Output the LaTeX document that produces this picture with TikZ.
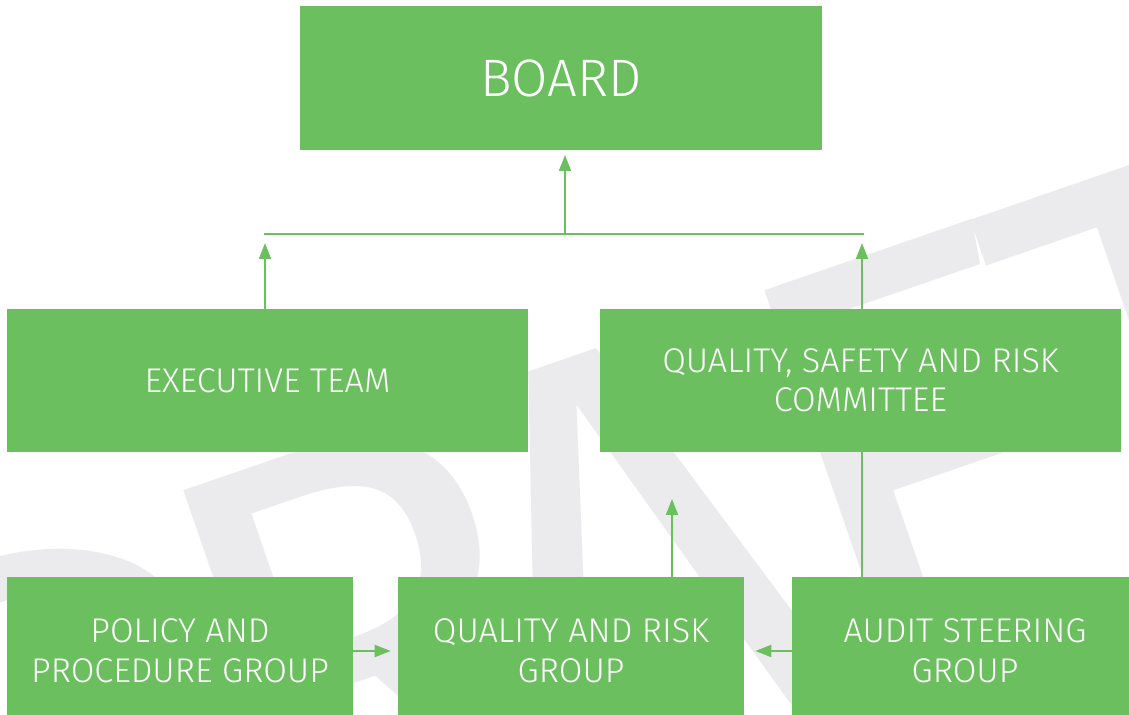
\documentclass[tikz,border=0pt]{standalone}
\usepackage{fontspec}
\setmainfont{Fira Sans Light}
\newfontfamily\markfont{Fira Sans}
\usetikzlibrary{arrows.meta}
\definecolor{boxgreen}{HTML}{6CBF5F}
\definecolor{draftgrey}{HTML}{EBEBED}

\begin{document}
\begin{tikzpicture}[x=0.02cm,y=-0.02cm]
	\tikzstyle{box}=[rectangle,fill=boxgreen,text=white,inner sep=0pt,align=center,font=\fontsize{19.5}{22.5}\selectfont]
	\tikzstyle{link}=[draw=boxgreen,line width=1.1pt]
	\tikzstyle{tip}=[-{Triangle[length=0.32cm,width=0.24cm]}]
	\tikzstyle{draftletter}=[text=draftgrey,rotate=19,anchor=base west,inner sep=0pt,font=\markfont\fontsize{341}{341}\selectfont]
	\useasboundingbox (0,0) rectangle (1129,715);
	% watermark letters on a baseline tilted by 19 degrees
	\begin{scope}
		\clip (0,0) rectangle (1129,715);
		\node[draftletter] (d) at (-39,1005) {D};
		\node[draftletter] (r) at (261.5,901) {R};
		\node[draftletter] (a) at (534,807) {A};
		\node[draftletter] (f) at (842,701) {F};
		\node[draftletter] (t) at (1096,613.5) {T};
	\end{scope}
	\node[box,minimum width=10.44cm,minimum height=2.88cm,font=\fontsize{30}{36}\selectfont] (1) at (561,78) {BOARD};
	\node[box,minimum width=10.42cm,minimum height=2.86cm] (2) at (267.5,380.5) {EXECUTIVE TEAM};
	\node[box,minimum width=10.42cm,minimum height=2.86cm] (3) at (860.5,380.5) {QUALITY, SAFETY AND RISK\\COMMITTEE};
	\node[box,minimum width=6.92cm,minimum height=2.96cm] (4) at (180,651) {POLICY AND\\PROCEDURE GROUP};
	\node[box,minimum width=6.92cm,minimum height=2.96cm] (5) at (571,651) {QUALITY AND RISK\\GROUP};
	\node[box,minimum width=6.92cm,minimum height=2.96cm] (6) at (965,651) {AUDIT STEERING\\GROUP};
	\coordinate (l) at (264,234);
	\coordinate (rr) at (864,234);
	\coordinate (m) at (565,234);
	\coordinate (lt) at (265,243);
	\coordinate (rt) at (862,243);
	\coordinate (mt) at (565,155);
	\coordinate (qt) at (672,499);
	\draw[link] (l) -- (rr);
	\draw[link,tip] (m) -- (mt);
	\draw[link,tip] (2.north -| lt) -- (lt);
	\draw[link,tip] (3.north -| rt) -- (rt);
	\draw[link,tip] (5.north -| qt) -- (qt);
	\draw[link] (6.north -| rt) -- (3.south -| rt);
	\draw[link,tip,shorten >=0.14cm] (4.east) -- (5.west);
	\draw[link,tip,shorten >=0.22cm] (6.west) -- (5.east);
\end{tikzpicture}
\end{document}
